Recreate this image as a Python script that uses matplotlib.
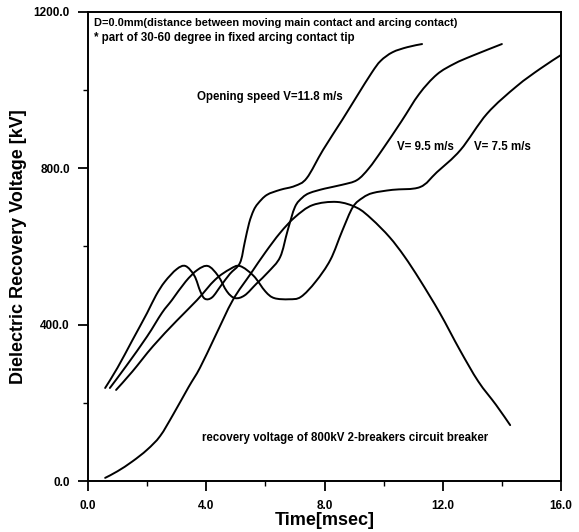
import matplotlib
matplotlib.use("Agg")
import matplotlib.pyplot as plt
from matplotlib.path import Path
from matplotlib.patches import PathPatch

plt.rcParams['font.family'] = ['Liberation Sans', 'DejaVu Sans']

# Opening speed V=11.8 m/s
t_118 = [0.58, 1.0, 1.5, 2.0, 2.3, 2.6, 3.0, 3.3, 3.6, 3.8, 3.96, 4.2, 4.5, 4.8, 5.14,
         5.3, 5.45, 5.6, 5.75, 6.05, 6.5, 7.0, 7.4, 7.95, 8.6, 9.1, 9.6, 9.9, 10.3, 10.8, 11.3]
v_118 = [238, 290, 360, 430, 475, 510, 542, 550, 525, 485, 466, 470, 500, 530, 558,
         610, 660, 692, 710, 732, 745, 755, 775, 847, 924, 985, 1045, 1075, 1097, 1110, 1118]

# V=9.5 m/s
t_95 = [0.74, 1.3, 2.0, 2.5, 2.84, 3.3, 3.7, 4.06, 4.4, 4.7, 4.97, 5.3, 5.7, 6.1, 6.5,
        6.75, 7.0, 7.25, 7.5, 8.0, 8.6, 9.1, 9.5, 9.95, 10.6, 11.2, 11.8, 12.4, 13.0, 14.0]
v_95 = [238, 295, 370, 430, 463, 510, 540, 550, 525, 485, 468, 475, 505, 535, 573,
        640, 701, 725, 737, 748, 758, 770, 800, 847, 920, 990, 1040, 1068, 1088, 1118]

# V=7.5 m/s
t_75 = [0.95, 1.5, 2.2, 3.0, 3.69, 4.3, 4.8, 5.14, 5.6, 6.0, 6.3, 6.8, 7.2, 7.7, 8.2,
        8.6, 8.96, 9.3, 9.64, 10.3, 11.23, 11.8, 12.6, 13.5, 14.5, 15.3, 16.0]
v_75 = [233, 280, 345, 410, 463, 515, 542, 550, 525, 485, 468, 465, 471, 510, 566,
        640, 701, 725, 737, 745, 752, 790, 847, 940, 1010, 1055, 1090]

# recovery voltage of 800kV 2-breakers circuit breaker
t_rv = [0.58, 1.0, 1.5, 2.0, 2.44, 2.88, 3.4, 3.79, 4.3, 4.9, 5.5, 6.0, 6.5, 7.0, 7.6,
        8.42, 9.1, 9.6, 10.2, 10.7, 11.23, 11.9, 12.58, 13.2, 13.8, 14.28]
v_rv = [8, 25, 50, 80, 115, 170, 240, 290, 370, 463, 530, 585, 635, 675, 706,
        714, 699, 670, 624, 575, 514, 430, 335, 255, 195, 143]

x_major = [0, 4, 8, 12, 16]
x_minor = [2, 6, 10, 14]
y_major = [0, 400, 800, 1200]
y_minor = [200, 600, 1000]
x_labels = ["0.0", "4.0", "8.0", "12.0", "16.0"]
y_labels = ["0.0", "400.0", "800.0", "1200.0"]


def smooth_path(xs, ys):
    """Catmull-Rom curve through the read points, drawn as cubic Bezier segments."""
    pts = list(zip(xs, ys))
    n = len(pts)
    verts = [pts[0]]
    codes = [Path.MOVETO]
    for i in range(n - 1):
        p0 = pts[i - 1] if i > 0 else pts[i]
        p1 = pts[i]
        p2 = pts[i + 1]
        p3 = pts[i + 2] if i + 2 < n else pts[i + 1]
        c1 = (p1[0] + (p2[0] - p0[0]) / 6.0, p1[1] + (p2[1] - p0[1]) / 6.0)
        c2 = (p2[0] - (p3[0] - p1[0]) / 6.0, p2[1] - (p3[1] - p1[1]) / 6.0)
        verts += [c1, c2, p2]
        codes += [Path.CURVE4, Path.CURVE4, Path.CURVE4]
    return Path(verts, codes)


fig = plt.figure(figsize=(5.79, 5.32), dpi=100)
ax = fig.add_axes([88/579, 1-481/532, (561-88)/579, (481-12)/532])

lw = 1.4
for t, v in [(t_118, v_118), (t_95, v_95), (t_75, v_75), (t_rv, v_rv)]:
    ax.add_patch(PathPatch(smooth_path(t, v), facecolor='none', edgecolor='black',
                           lw=lw, capstyle='round', joinstyle='round'))

ax.set_xlim(0, 16)
ax.set_ylim(0, 1200)
ax.set_xticks(x_major)
ax.set_xticklabels(x_labels)
ax.set_xticks(x_minor, minor=True)
ax.set_yticks(y_major)
ax.set_yticklabels(y_labels)
ax.set_yticks(y_minor, minor=True)
ax.tick_params(which='major', direction='out', length=7, width=1.3, labelsize=8.5)
ax.tick_params(axis='y', which='major', pad=6)
ax.tick_params(axis='x', which='major', pad=7)
ax.tick_params(which='minor', direction='out', length=3.5, width=1.0)
for lab in ax.get_xticklabels() + ax.get_yticklabels():
    lab.set_fontweight('bold')
for s in ax.spines.values():
    s.set_linewidth(1.4)

ax.set_xlabel("Time[msec]", fontsize=13, fontweight='bold', labelpad=0)
ax.set_ylabel("Dielectric Recovery Voltage [kV]", fontsize=13, fontweight='bold', labelpad=5)

tk = dict(fontweight='bold', color='black')
ax.text(0.2, 1172, "D=0.0mm(distance between moving main contact and arcing contact)",
        va='center', ha='left', fontsize=7.9, **tk)
ax.text(0.2, 1133, "* part of 30-60 degree in fixed arcing contact tip",
        va='center', ha='left', fontsize=8.3, **tk)
ax.text(3.7, 982, "Opening speed V=11.8 m/s", va='center', ha='left', fontsize=8.3, **tk)
ax.text(10.45, 855, "V= 9.5 m/s", va='center', ha='left', fontsize=8.3, **tk)
ax.text(13.05, 855, "V= 7.5 m/s", va='center', ha='left', fontsize=8.3, **tk)
ax.text(3.85, 110, "recovery voltage of 800kV 2-breakers circuit breaker",
        va='center', ha='left', fontsize=8.3, **tk)

fig.savefig("out.png", dpi=100)
